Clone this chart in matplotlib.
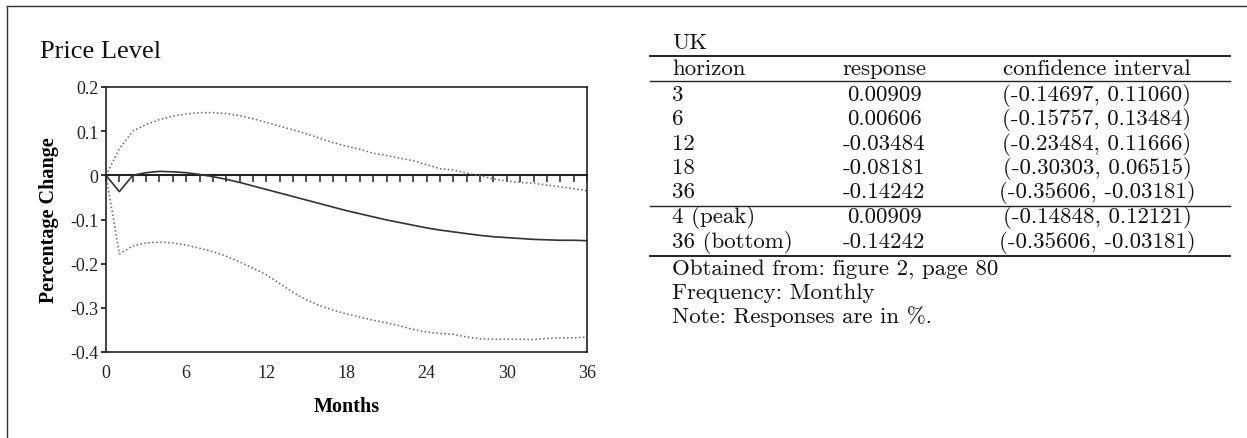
import numpy as np
import matplotlib
matplotlib.use("Agg")
import matplotlib.pyplot as plt

# impulse response of the price level (UK), monthly horizon 0..36
months = np.arange(0, 37)
response = [0.0, -0.037, 0.0, 0.006, 0.009, 0.008, 0.006, 0.002, -0.003, -0.009,
            -0.016, -0.024, -0.032, -0.040, -0.048, -0.056, -0.064, -0.072, -0.080,
            -0.087, -0.094, -0.101, -0.107, -0.113, -0.119, -0.124, -0.128, -0.132,
            -0.136, -0.139, -0.141, -0.143, -0.145, -0.146, -0.147, -0.147, -0.148]
upper = [0.0, 0.060, 0.100, 0.115, 0.126, 0.134, 0.139, 0.142, 0.142, 0.140,
         0.135, 0.128, 0.120, 0.111, 0.103, 0.094, 0.084, 0.074, 0.066, 0.059,
         0.050, 0.045, 0.039, 0.033, 0.024, 0.015, 0.012, 0.005, -0.001, -0.008,
         -0.013, -0.016, -0.018, -0.022, -0.026, -0.030, -0.035]
lower = [0.0, -0.178, -0.160, -0.153, -0.151, -0.153, -0.158, -0.165, -0.173, -0.183,
         -0.196, -0.210, -0.225, -0.245, -0.265, -0.282, -0.295, -0.305, -0.314, -0.321,
         -0.328, -0.334, -0.341, -0.349, -0.355, -0.358, -0.360, -0.366, -0.370, -0.371,
         -0.371, -0.371, -0.372, -0.369, -0.368, -0.368, -0.366]

xticks = [0, 6, 12, 18, 24, 30, 36]
yticks = [-0.4, -0.3, -0.2, -0.1, 0.0, 0.1, 0.2]
ytick_labels = ['-0.4', '-0.3', '-0.2', '-0.1', '0', '0.1', '0.2']

# table on the right
table_title = 'UK'
col_headers = ['horizon', 'response', 'confidence interval']
horizons = ['3', '6', '12', '18', '36']
responses = ['0.00909', '0.00606', '-0.03484', '-0.08181', '-0.14242']
intervals = ['(-0.14697, 0.11060)', '(-0.15757, 0.13484)', '(-0.23484, 0.11666)',
             '(-0.30303, 0.06515)', '(-0.35606, -0.03181)']
extreme_labels = ['4 (peak)', '36 (bottom)']
extreme_resp = ['0.00909', '-0.14242']
extreme_ci = ['(-0.14848, 0.12121)', '(-0.35606, -0.03181)']
notes = ['Obtained from: figure 2, page 80', 'Frequency: Monthly', 'Note: Responses are in %.']

W, H = 1247, 439
fig = plt.figure(figsize=(W / 100, H / 100), dpi=100)
serif = ['Liberation Serif', 'DejaVu Serif']

ax = fig.add_axes([106 / W, 1 - 353 / H, 481 / W, 265 / H])
ax.plot(months, upper, color='#666666', lw=1.1, ls=(0, (1, 1.6)))
ax.plot(months, lower, color='#666666', lw=1.1, ls=(0, (1, 1.6)))
ax.plot(months, response, color='#333333', lw=1.2)
ax.set_xlim(0, 36)
ax.set_ylim(-0.4, 0.2)
ax.set_xticks(xticks)
ax.set_xticklabels([str(t) for t in xticks], family=serif, fontsize=13, color='#222222')
ax.set_yticks(yticks)
ax.set_yticklabels(ytick_labels, family=serif, fontsize=13, color='#222222')
ax.tick_params(axis='x', length=0, pad=9)
ax.tick_params(axis='y', length=3.5, width=1.1, pad=2, direction='out')
for s in ax.spines.values():
    s.set_linewidth(1.2)
    s.set_color('#222222')

# zero line with a tick for every month
zero = ax.secondary_xaxis(0, transform=ax.transData)
zero.set_alignment('bottom')
zero.set_xticks(months)
zero.tick_params(direction='out', length=5, width=1.1, color='#222222',
                 labelbottom=False, labeltop=False)
zero.spines['bottom'].set_linewidth(1.5)
zero.spines['bottom'].set_color('#222222')

ax.set_xlabel('Months', family=serif, fontsize=14.5, fontweight='bold')
ax.xaxis.set_label_coords(0.5, -0.165)
ax.set_ylabel('Percentage Change', family=serif, fontsize=14.5, fontweight='bold')
ax.yaxis.set_label_coords(-0.097, 0.5)

fig.text(40 / W, 1 - 58 / H, 'Price Level', family=serif, fontsize=19,
         ha='left', va='baseline', color='#111111')

# table drawn in pixel coordinates
tax = fig.add_axes([0, 0, 1, 1])
tax.set_xlim(0, W)
tax.set_ylim(H, 0)
tax.axis('off')

tfont = dict(family=['cmr10', 'DejaVu Serif'], fontsize=16.5, color='#111111', va='baseline')
x_h, x_r, x_c = 672, 884, 1097
x0, x1 = 650, 1230

tax.plot([7, W], [7, 7], color='#333333', lw=1)
tax.plot([7, 7], [7, H], color='#333333', lw=1)

tax.text(x_h, 49, table_title, ha='left', **tfont)
tax.plot([x0, x1], [57, 57], color='#222222', lw=1.4)
tax.text(x_h, 75, col_headers[0], ha='left', **tfont)
tax.text(x_r, 75, col_headers[1], ha='center', **tfont)
tax.text(x_c, 75, col_headers[2], ha='center', **tfont)
tax.plot([x0, x1], [82, 82], color='#222222', lw=1.0)

step = 24.3
for i, (h, r, c) in enumerate(zip(horizons, responses, intervals)):
    y = 101 + i * step
    tax.text(x_h, y, h, ha='left', **tfont)
    tax.text(x_r, y, r, ha='center', **tfont)
    tax.text(x_c, y, c, ha='center', **tfont)
tax.plot([x0, x1], [207, 207], color='#222222', lw=1.0)

for i, (h, r, c) in enumerate(zip(extreme_labels, extreme_resp, extreme_ci)):
    y = 223.5 + i * step
    tax.text(x_h, y, h, ha='left', **tfont)
    tax.text(x_r, y, r, ha='center', **tfont)
    tax.text(x_c, y, c, ha='center', **tfont)
tax.plot([x0, x1], [257, 257], color='#222222', lw=1.4)

for i, n in enumerate(notes):
    tax.text(x_h, 275 + i * 24, n, ha='left', **tfont)

fig.savefig('out.png', dpi=100)
